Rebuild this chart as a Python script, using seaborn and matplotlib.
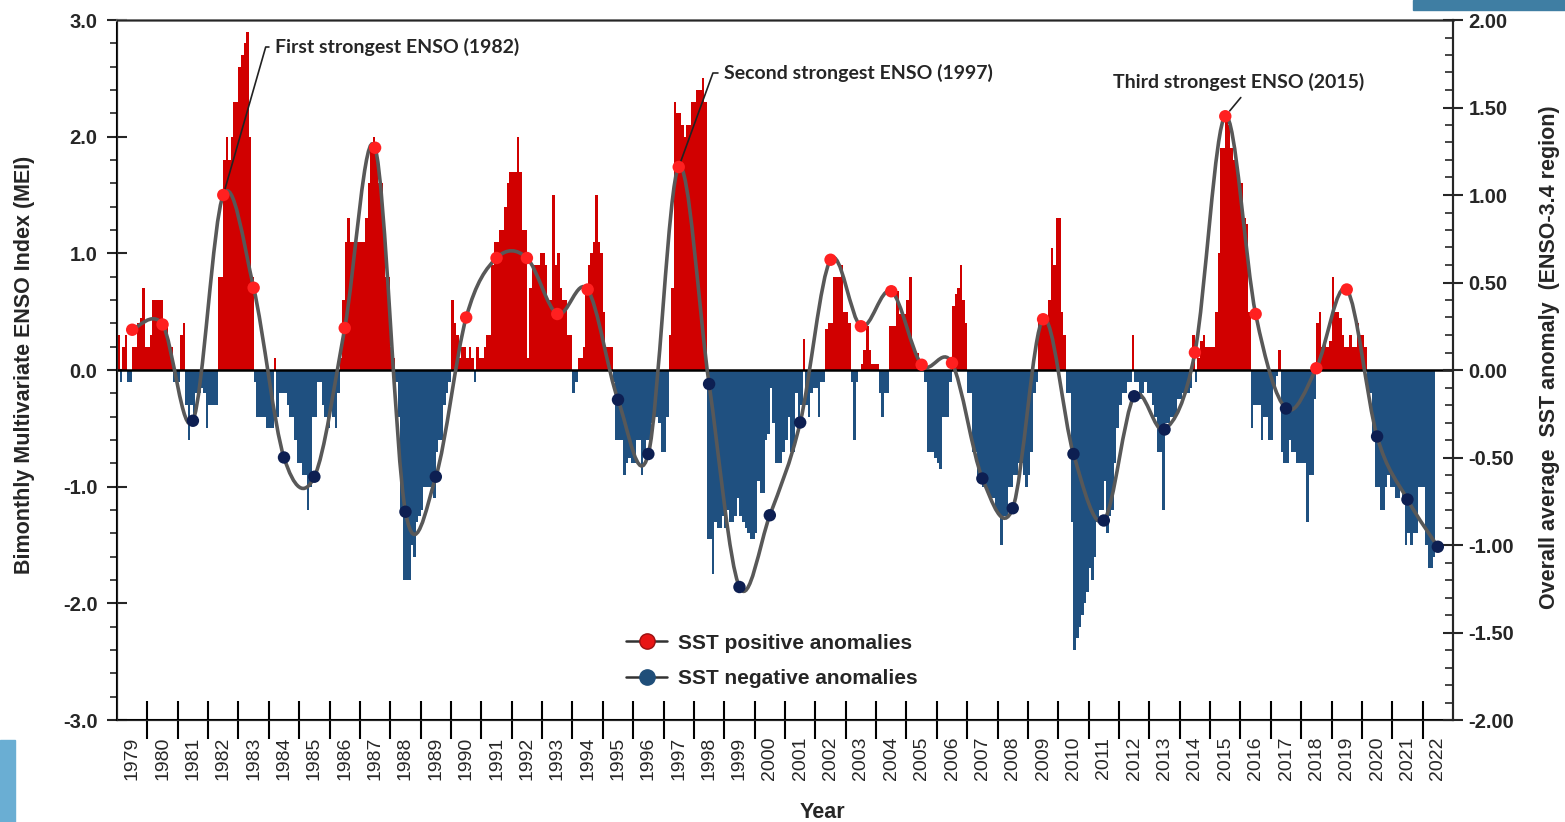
import numpy as np
import pandas as pd
import matplotlib
matplotlib.use('Agg')
import matplotlib.pyplot as plt
import seaborn as sns
from matplotlib.path import Path
from matplotlib.patches import PathPatch, Rectangle
from matplotlib.lines import Line2D
from matplotlib.ticker import MultipleLocator, FixedLocator, NullFormatter, FixedFormatter

# 月度 MEI 数值（按年，读自原图）
mei_1979 = [0.3, -0.1, 0.2, 0.3, -0.1, -0.1, 0.2, 0.2, 0.4, 0.45, 0.7, 0.2]
mei_1980 = [0.2, 0.3, 0.6, 0.6, 0.6, 0.6, 0.4, 0.4, 0.2, 0.2, -0.1, -0.1]
mei_1981 = [-0.1, 0.3, 0.4, -0.3, -0.6, -0.3, -0.45, -0.2, -0.2, -0.15, -0.2, -0.5]
mei_1982 = [-0.3, -0.3, -0.3, -0.3, 0.8, 0.8, 1.8, 2.0, 1.8, 2.0, 2.3, 2.3]
mei_1983 = [2.6, 2.7, 2.8, 2.9, 2.0, 0.8, -0.1, -0.4, -0.4, -0.4, -0.4, -0.5]
mei_1984 = [-0.5, -0.5, 0.1, -0.4, -0.2, -0.2, -0.2, -0.3, -0.4, -0.4, -0.6, -0.8]
mei_1985 = [-0.8, -0.9, -0.9, -1.2, -1.0, -0.4, -0.4, -0.1, -0.1, -0.3, -0.4, -0.5]
mei_1986 = [-0.3, -0.4, -0.5, -0.2, 0.1, 0.6, 1.1, 1.3, 1.1, 1.1, 1.1, 1.1]
mei_1987 = [1.1, 1.1, 1.3, 1.6, 1.9, 2.0, 1.9, 1.6, 1.6, 1.2, 0.8, 0.8]
mei_1988 = [0.2, 0.1, -0.1, -0.4, -1.2, -1.8, -1.8, -1.8, -1.5, -1.6, -1.3, -1.25]
mei_1989 = [-1.2, -1.0, -1.0, -1.0, -1.0, -1.1, -0.7, -0.6, -0.6, -0.3, -0.2, -0.1]
mei_1990 = [0.6, 0.4, 0.3, 0.1, 0.2, 0.2, 0.1, 0.2, 0.1, -0.1, 0.2, 0.1]
mei_1991 = [0.1, 0.2, 0.3, 0.3, 0.9, 1.1, 1.1, 1.2, 1.2, 1.4, 1.6, 1.7]
mei_1992 = [1.7, 1.7, 2.0, 1.7, 1.2, 1.2, 0.1, 0.7, 0.9, 0.9, 0.9, 1.0]
mei_1993 = [1.0, 0.9, 0.6, 0.6, 1.5, 0.9, 1.0, 0.7, 0.6, 0.6, 0.3, 0.3]
mei_1994 = [-0.2, -0.1, 0.1, 0.1, 0.2, 0.7, 0.9, 1.0, 1.1, 1.5, 1.1, 1.0]
mei_1995 = [0.5, 0.2, 0.2, 0.2, -0.1, -0.6, -0.6, -0.6, -0.9, -0.8, -0.75, -0.8]
mei_1996 = [-0.8, -0.6, -0.6, -0.9, -0.7, -0.6, -0.6, -0.45, -0.4, -0.4, -0.45, -0.7]
mei_1997 = [-0.7, -0.4, 0.3, 0.7, 2.3, 2.2, 2.2, 2.1, 2.0, 2.1, 2.1, 2.3]
mei_1998 = [2.3, 2.4, 2.4, 2.5, 2.3, -1.45, -1.45, -1.75, -1.3, -1.35, -1.35, -1.25]
mei_1999 = [-1.35, -1.2, -1.3, -1.3, -1.25, -1.1, -1.25, -1.3, -1.35, -1.4, -1.45, -1.45]
mei_2000 = [-1.4, -0.95, -1.05, -1.05, -0.6, -0.55, -0.15, -0.45, -0.8, -0.8, -0.8, -0.7]
mei_2001 = [-0.6, -0.4, -0.7, -0.7, -0.2, -0.5, -0.3, 0.27, -0.3, -0.4, -0.2, -0.15]
mei_2002 = [-0.15, -0.4, -0.1, -0.1, 0.35, 0.4, 0.4, 0.8, 0.8, 0.8, 0.9, 0.5]
mei_2003 = [0.5, 0.4, -0.1, -0.6, -0.1, 0.0, 0.05, 0.17, 0.38, 0.17, 0.05, 0.05]
mei_2004 = [0.05, -0.2, -0.4, -0.2, -0.2, 0.38, 0.38, 0.38, 0.68, 0.48, 0.48, 0.48]
mei_2005 = [0.6, 0.8, 0.2, 0.15, 0.15, 0.05, 0.05, -0.1, -0.7, -0.7, -0.7, -0.75]
mei_2006 = [-0.8, -0.85, -0.4, -0.4, -0.4, -0.1, 0.55, 0.65, 0.7, 0.9, 0.6, 0.4]
mei_2007 = [-0.2, -0.2, -0.7, -0.7, -0.9, -0.9, -1.0, -1.0, -1.05, -1.1, -1.1, -1.2]
mei_2008 = [-1.25, -1.5, -1.25, -1.25, -1.0, -1.0, -0.9, -0.9, -0.8, -0.8, -0.9, -1.0]
mei_2009 = [-0.9, -0.7, -0.2, -0.1, 0.45, 0.45, 0.45, 0.45, 0.6, 1.05, 0.9, 1.3]
mei_2010 = [1.3, 0.5, 0.3, -0.2, -0.2, -1.3, -2.4, -2.3, -2.2, -2.1, -2.0, -1.9]
mei_2011 = [-1.7, -1.8, -1.6, -1.3, -1.2, -1.2, -0.95, -1.4, -1.25, -1.2, -0.8, -0.5]
mei_2012 = [-0.3, -0.2, -0.2, -0.1, -0.1, 0.3, -0.1, -0.1, -0.25, -0.2, -0.1, -0.2]
mei_2013 = [-0.2, -0.3, -0.4, -0.7, -0.7, -1.2, -0.45, -0.45, -0.4, -0.4, -0.4, -0.25]
mei_2014 = [-0.25, -0.2, -0.2, -0.2, -0.15, 0.3, -0.1, 0.1, 0.25, 0.3, 0.2, 0.2]
mei_2015 = [0.2, 0.2, 0.5, 1.0, 1.9, 1.9, 2.2, 2.1, 1.9, 1.8, 1.8, 1.6]
mei_2016 = [1.6, 1.3, 1.25, 0.5, -0.5, -0.3, -0.3, -0.3, -0.6, -0.4, -0.4, -0.6]
mei_2017 = [-0.6, -0.15, -0.05, 0.17, -0.7, -0.8, -0.8, -0.6, -0.7, -0.7, -0.8, -0.8]
mei_2018 = [-0.8, -0.8, -1.3, -0.9, -0.9, -0.25, 0.4, 0.5, 0.2, 0.25, 0.2, 0.25]
mei_2019 = [0.8, 0.5, 0.5, 0.45, 0.3, 0.2, 0.2, 0.3, 0.2, 0.2, 0.4, 0.3]
mei_2020 = [0.3, 0.2, -0.2, -0.2, -0.6, -1.0, -1.0, -1.2, -1.2, -1.0, -0.9, -1.0]
mei_2021 = [-1.0, -1.1, -1.1, -1.0, -1.1, -1.5, -1.4, -1.5, -1.4, -1.4, -1.0, -1.0]
mei_2022 = [-1.0, -1.5, -1.7, -1.7, -1.6]

mei_monthly = (mei_1979 + mei_1980 + mei_1981 + mei_1982 + mei_1983 + mei_1984 + mei_1985
               + mei_1986 + mei_1987 + mei_1988 + mei_1989 + mei_1990 + mei_1991 + mei_1992
               + mei_1993 + mei_1994 + mei_1995 + mei_1996 + mei_1997 + mei_1998 + mei_1999
               + mei_2000 + mei_2001 + mei_2002 + mei_2003 + mei_2004 + mei_2005 + mei_2006
               + mei_2007 + mei_2008 + mei_2009 + mei_2010 + mei_2011 + mei_2012 + mei_2013
               + mei_2014 + mei_2015 + mei_2016 + mei_2017 + mei_2018 + mei_2019 + mei_2020
               + mei_2021 + mei_2022)

# 年均 SST 距平（右轴）
sst_years = list(range(1979, 2023))
sst_anom = [0.23, 0.26, -0.29, 1.00, 0.47, -0.50, -0.61, 0.24, 1.27, -0.81,
            -0.61, 0.30, 0.64, 0.64, 0.32, 0.46, -0.17, -0.48, 1.16, -0.08,
            -1.24, -0.83, -0.30, 0.63, 0.25, 0.45, 0.03, 0.04, -0.62, -0.79,
            0.29, -0.48, -0.86, -0.15, -0.34, 0.10, 1.45, 0.32, -0.22, 0.01,
            0.46, -0.38, -0.74, -1.01]

legend_labels = ['SST positive anomalies', 'SST negative anomalies']
notes = ['First strongest ENSO (1982)', 'Second strongest ENSO (1997)', 'Third strongest ENSO (2015)']

RED_BAR = '#D10000'
BLUE_BAR = '#1F5080'


def smooth_path(xs, ys):
    """用贝塞尔曲线把年点连成平滑线"""
    pts = np.column_stack([xs, ys])
    ext = np.vstack([pts[0], pts, pts[-1]])
    verts = [pts[0]]
    codes = [Path.MOVETO]
    for i in range(len(pts) - 1):
        p0, p1, p2, p3 = ext[i], ext[i + 1], ext[i + 2], ext[i + 3]
        verts += [p1 + (p2 - p0) / 6, p2 - (p3 - p1) / 6, p2]
        codes += [Path.CURVE4] * 3
    return Path(verts, codes)


sns.set_style('ticks')
plt.rcParams['font.family'] = ['Liberation Sans', 'DejaVu Sans']

W, H = 1565, 822
fig = plt.figure(figsize=(W / 100, H / 100), dpi=100)
ax = fig.add_axes([117 / W, 1 - 720 / H, 1336 / W, 700 / H])

df = pd.DataFrame({'t': 1979 + (np.arange(len(mei_monthly)) + 0.5) / 12, 'mei': mei_monthly})
df['sign'] = np.where(df['mei'] >= 0, 'pos', 'neg')
sns.barplot(data=df, x='t', y='mei', hue='sign', palette={'pos': RED_BAR, 'neg': BLUE_BAR},
            native_scale=True, dodge=False, width=1.0, linewidth=0, errorbar=None,
            saturation=1, legend=False, ax=ax, zorder=1)

ax.axhline(0, color='black', lw=1.8, zorder=2)
ax.set_xlim(1979, 2023)
ax.set_ylim(-3, 3)

# x 轴：刻度在年份交界，标签在年中
ax.xaxis.set_major_locator(FixedLocator(np.arange(1980, 2023)))
ax.xaxis.set_major_formatter(NullFormatter())
ax.xaxis.set_minor_locator(FixedLocator(np.array(sst_years) + 0.5))
ax.xaxis.set_minor_formatter(FixedFormatter([str(y) for y in sst_years]))
ax.tick_params(axis='x', which='major', direction='inout', length=28, width=1.5, color='black')
ax.tick_params(axis='x', which='minor', length=0, pad=12, labelsize=14, labelrotation=90)

ax.set_yticks(np.arange(-3, 4), [f'{v:.1f}' for v in np.arange(-3, 4)], fontweight='bold', fontsize=14.5)
ax.yaxis.set_minor_locator(MultipleLocator(0.2))
ax.tick_params(axis='y', which='major', direction='inout', length=14, width=1.5, pad=7)
ax.tick_params(axis='y', which='minor', direction='out', length=5, width=1.2)

for side in ['left', 'right', 'bottom']:
    ax.spines[side].set_linewidth(1.5)
    ax.spines[side].set_color('black')
ax.spines['top'].set_color('#707070')
ax.spines['top'].set_linewidth(2)

ax.set_xlabel('Year', fontsize=15.5, fontweight='bold')
ax.xaxis.set_label_coords((822 - 117) / 1336, (720 - 812) / 700)
ax.xaxis.label.set_va('center')
ax.set_ylabel('Bimonthly Multivariate ENSO Index (MEI)', fontsize=15.5, fontweight='bold')
ax.yaxis.set_label_coords((25 - 117) / 1336, (720 - 365) / 700)
ax.yaxis.label.set_va('center')

# 右轴：SST 距平
ax2 = ax.twinx()
ax2.set_ylim(-2, 2)
rt = np.arange(-2, 2.01, 0.5)
ax2.set_yticks(rt, [f'{v:.2f}' for v in rt], fontweight='bold', fontsize=14.5)
ax2.yaxis.set_minor_locator(MultipleLocator(0.1))
ax2.tick_params(axis='y', which='major', direction='inout', length=14, width=1.5, pad=4)
ax2.tick_params(axis='y', which='minor', direction='in', length=6, width=1.2)
ax2.set_ylabel('Overall average  SST anomaly  (ENSO-3.4 region)', fontsize=15.5, fontweight='bold')
ax2.yaxis.set_label_coords((1550 - 117) / 1336, (720 - 357) / 700)
ax2.yaxis.label.set_va('center')
ax2.spines['right'].set_linewidth(1.5)

sst_x = np.array(sst_years) + 0.5
ax2.add_patch(PathPatch(smooth_path(sst_x, sst_anom), fill=False, edgecolor='#585858', lw=2.6, zorder=3))
sst_sign = ['pos' if v >= 0 else 'neg' for v in sst_anom]
sns.scatterplot(x=sst_x, y=sst_anom, hue=sst_sign, palette={'pos': '#FF2020', 'neg': '#0D1F52'},
                s=80, linewidth=0, legend=False, ax=ax2, zorder=4)
ax2.set_xlim(1979, 2023)

# 标注
note_font = dict(family=['Lato', 'DejaVu Sans'], fontweight='bold', fontsize=14)
ax2.annotate(notes[0], xy=(1982.5, sst_anom[3]), xytext=(275, H - 47), textcoords='figure pixels',
             ha='left', va='center', **note_font,
             arrowprops=dict(arrowstyle='-', color='#222222', lw=1.2, relpos=(0, 0.5),
                             shrinkA=2, shrinkB=0, connectionstyle='angle,angleA=0,angleB=74,rad=0'))
ax2.annotate(notes[1], xy=(1997.5, sst_anom[18]), xytext=(724, H - 73), textcoords='figure pixels',
             ha='left', va='center', **note_font,
             arrowprops=dict(arrowstyle='-', color='#222222', lw=1.2, relpos=(0, 0.5),
                             shrinkA=2, shrinkB=0, connectionstyle='angle,angleA=0,angleB=70,rad=0'))
ax2.annotate(notes[2], xy=(2015.5, sst_anom[36]), xytext=(1113, H - 82), textcoords='figure pixels',
             ha='left', va='center', **note_font,
             arrowprops=dict(arrowstyle='-', color='#222222', lw=1.2, relpos=(0.53, 0),
                             shrinkA=3, shrinkB=5))

# 图例
h_pos = Line2D([], [], color='#333333', lw=1.8, marker='o', markersize=11,
               markerfacecolor='#E81515', markeredgecolor='#9A1010')
h_neg = Line2D([], [], color='#333333', lw=1.8, marker='o', markersize=11,
               markerfacecolor='#1F4E79', markeredgecolor='#1F4E79')
fig.legend([h_pos, h_neg], legend_labels, loc='upper left', bbox_to_anchor=(607 / W, 1 - 615 / H),
           frameon=False, prop={'weight': 'bold', 'size': 15}, handlelength=2.0,
           handletextpad=0.5, labelspacing=0.8)

# 幻灯片边角装饰
fig.patches.append(Rectangle((1413 / W, 1 - 10 / H), 152 / W, 10 / H, transform=fig.transFigure,
                             color='#3F7EA3', zorder=0))
fig.patches.append(Rectangle((0, 0), 15 / W, 82 / H, transform=fig.transFigure,
                             color='#6AAED3', zorder=0))

fig.savefig('out.png', dpi=100)
